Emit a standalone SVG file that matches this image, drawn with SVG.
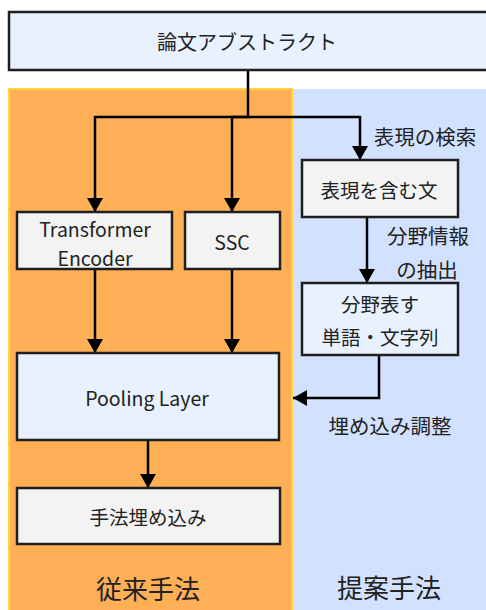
<svg xmlns="http://www.w3.org/2000/svg" width="486" height="610" viewBox="0 0 486 610">
<defs>
<style>
.box{stroke:#1f1f1f;stroke-width:2.5}
.blue{fill:#e8f1fd}
.gray{fill:#f3f3f3}
.t{font-family:"Noto Sans CJK JP","Noto Sans",sans-serif;font-size:19.5px;fill:#222;text-anchor:middle;dominant-baseline:central}
.lbl{font-family:"Noto Sans CJK JP","Noto Sans",sans-serif;font-size:20.5px;fill:#222;text-anchor:middle;dominant-baseline:central}
.ttl{font-family:"Noto Sans CJK JP","Noto Sans",sans-serif;font-size:20px;fill:#222;text-anchor:middle;dominant-baseline:central}
.big{font-family:"Noto Sans CJK JP","Noto Sans",sans-serif;font-size:26px;fill:#222;text-anchor:middle;dominant-baseline:central}
.c{fill:none;stroke:#000;stroke-width:2.5}
</style>
<marker id="ah" markerUnits="userSpaceOnUse" markerWidth="16" markerHeight="16" refX="14" refY="8" orient="auto">
<path d="M0,0 L14,8 L0,16 z" fill="#000"/>
</marker>
</defs>
<rect width="486" height="610" fill="#ffffff"/>
<g id="panel-conventional">
<rect x="9" y="89" width="283" height="530" fill="#ffb057" stroke="#ffd23f" stroke-width="2"/>
<text class="big" x="148" y="587">従来手法</text>
</g>
<g id="panel-proposed">
<rect x="293" y="89" width="200" height="530" fill="#d2e1fd"/>
<text class="big" x="389" y="586">提案手法</text>
</g>
<g id="connectors">
<path class="c" d="M248,70 V117 H95 V212" marker-end="url(#ah)"/>
<path class="c" d="M248,117 H232 V212" marker-end="url(#ah)"/>
<path class="c" d="M248,117 H360 V160" marker-end="url(#ah)"/>
<path class="c" d="M95,269 V353" marker-end="url(#ah)"/>
<path class="c" d="M232,269 V353" marker-end="url(#ah)"/>
<path class="c" d="M148,440 V488" marker-end="url(#ah)"/>
<path class="c" d="M367,217 V283" marker-end="url(#ah)"/>
<path class="c" d="M379,355 V398 H293" marker-end="url(#ah)"/>
<text class="lbl" x="425" y="136">表現の検索</text>
<text class="lbl" x="428" y="235">分野情報</text>
<text class="lbl" x="427" y="269">の抽出</text>
<text class="lbl" x="390" y="425">埋め込み調整</text>
</g>
<g id="abstract">
<rect class="box blue" x="9" y="12" width="485" height="58"/>
<text class="ttl" x="247" y="41">論文アブストラクト</text>
</g>
<g id="transformer">
<rect class="box gray" x="17" y="212" width="155" height="57"/>
<text class="t" x="95" y="228">Transformer</text>
<text class="t" x="95" y="257">Encoder</text>
</g>
<g id="ssc">
<rect class="box gray" x="185" y="212" width="95" height="57"/>
<text class="t" x="232" y="241">SSC</text>
</g>
<g id="pooling">
<rect class="box blue" x="17" y="353" width="262" height="87"/>
<text class="t" x="147" y="397">Pooling Layer</text>
</g>
<g id="method-embedding">
<rect class="box gray" x="17" y="488" width="263" height="56"/>
<text class="t" x="148" y="516">手法埋め込み</text>
</g>
<g id="sentences">
<rect class="box gray" x="302" y="160" width="156" height="57"/>
<text class="t" x="379" y="189">表現を含む文</text>
</g>
<g id="field-words">
<rect class="box blue" x="302" y="283" width="156" height="72"/>
<text class="t" x="380" y="303">分野表す</text>
<text class="t" x="380" y="336">単語・文字列</text>
</g>
</svg>
